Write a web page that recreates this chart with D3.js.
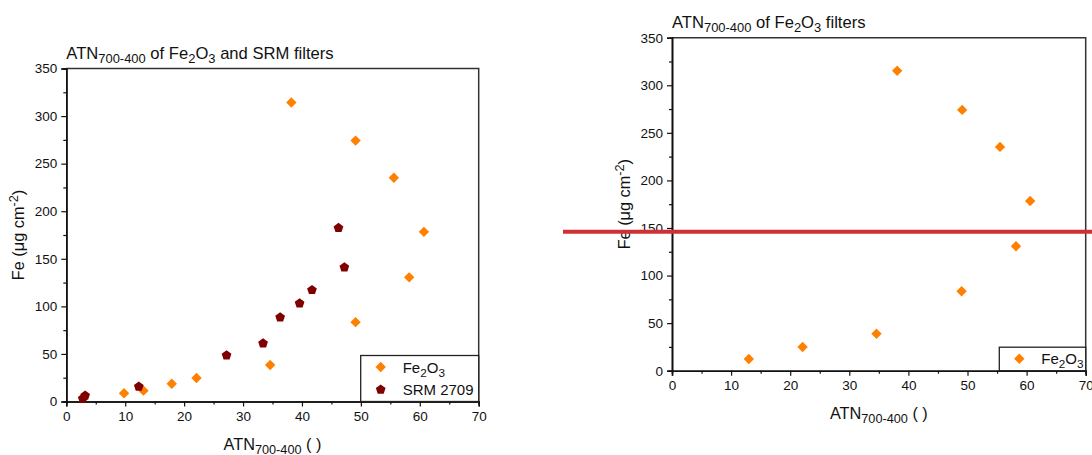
<!DOCTYPE html>
<html>
<head>
<meta charset="utf-8">
<script src="https://cdn.jsdelivr.net/npm/d3@7"></script>
<style>
  body { margin: 0; background: #fff; }
  svg { display: block; font-family: "Liberation Sans", Arial, sans-serif; }
</style>
</head>
<body>
<svg id="chart" width="1092" height="455"></svg>
<script>
// left panel: Fe2O3 and SRM filters
const fe2o3Atn = [9.8, 13.1, 17.9, 22.1, 34.6, 38.2, 49.1, 55.6, 60.7, 58.2, 49.1];
const fe2o3Fe = [8.6, 11.4, 18.7, 24.7, 38.4, 314.2, 274.2, 235.1, 178.3, 130.5, 83.4];
const srmAtn = [2.8, 3.2, 12.3, 27.2, 33.4, 36.3, 39.6, 41.7, 46.2, 47.2];
const srmFe = [3.0, 6.1, 15.6, 48.6, 61.2, 88.5, 103.2, 117.2, 182.4, 141.1];

// right panel: Fe2O3 filters only
const filtAtn = [13.0, 22.1, 34.6, 38.1, 49.1, 55.5, 60.6, 58.2, 49.0];
const filtFe = [12.3, 24.9, 38.9, 315.3, 274.1, 235.2, 178.4, 130.8, 83.5];

const xTicks = [0, 10, 20, 30, 40, 50, 60, 70];
const yTicks = [0, 50, 100, 150, 200, 250, 300, 350];
const markLevel = 146; // red marker line on the right panel

const ORANGE = "#ff8000";
const MAROON = "#800000";

const svg = d3.select("#chart");

const diamond = d3.symbol().type(d3.symbolSquare).size(54);
const pentagon = {
  draw(ctx, size) {
    const r = Math.sqrt(size / 2.378);
    for (let i = 0; i < 5; i++) {
      const a = -Math.PI / 2 + i * 2 * Math.PI / 5;
      const px = r * Math.cos(a), py = r * Math.sin(a);
      if (i === 0) ctx.moveTo(px, py); else ctx.lineTo(px, py);
    }
    ctx.closePath();
  }
};
const penta = d3.symbol().type(pentagon).size(62);

function subText(sel, parts) {
  // parts: [text, "sub"|"sup"|null]
  parts.forEach(([t, kind]) => {
    const ts = sel.append("tspan").text(t);
    if (kind === "sub") ts.attr("font-size", "0.78em").attr("dy", 4);
    if (kind === "sup") ts.attr("font-size", "0.78em").attr("dy", -6);
    if (kind === "back-sub") ts.attr("dy", -4);
    if (kind === "back-sup") ts.attr("dy", 6);
  });
}

function drawPanel(o) {
  const x = d3.scaleLinear().domain([0, 70]).range([o.left, o.right]);
  const y = d3.scaleLinear().domain([0, 350]).range([o.bottom, o.top]);
  const g = svg.append("g");

  // frame: top and right
  g.append("path")
    .attr("d", `M${o.left},${o.top}H${o.right}V${o.bottom}`)
    .attr("fill", "none").attr("stroke", "#333").attr("stroke-width", 1.5);

  const xAxis = d3.axisBottom(x).tickValues(xTicks).tickSize(5).tickPadding(5).tickFormat(d3.format("d"));
  const yAxis = d3.axisLeft(y).tickValues(yTicks).tickSize(5).tickPadding(4).tickFormat(d3.format("d"));
  const xMinor = d3.axisBottom(x).tickValues(xTicks.slice(1).map(v => v - 5)).tickSize(3).tickFormat("");
  const yMinor = d3.axisLeft(y).tickValues(yTicks.slice(1).map(v => v - 25)).tickSize(3).tickFormat("");

  [[xAxis, "x"], [xMinor, "x"], [yAxis, "y"], [yMinor, "y"]].forEach(([ax, k]) => {
    const a = g.append("g")
      .attr("transform", k === "x" ? `translate(0,${o.bottom})` : `translate(${o.left},0)`)
      .call(ax);
    a.select(".domain").attr("stroke", "#111").attr("stroke-width", 1.6);
    a.selectAll(".tick line").attr("stroke", "#111").attr("stroke-width", 1.2);
    a.selectAll(".tick text").attr("font-size", 13.5).attr("fill", "#111")
      .attr("font-family", "Liberation Sans, Arial, sans-serif");
  });

  // title
  const title = g.append("text").attr("x", o.left).attr("y", o.top - 10)
    .attr("font-size", 16.6).attr("fill", "#111");
  subText(title, o.title);

  // axis labels
  const xl = g.append("text").attr("x", (o.left + o.right) / 2).attr("y", o.bottom + 48)
    .attr("text-anchor", "middle").attr("font-size", 16.3).attr("fill", "#111");
  subText(xl, [["ATN", null], ["700-400", "sub"], [" ( )", "back-sub"]]);

  const yl = g.append("text")
    .attr("transform", `translate(${o.left - 42},${(o.top + o.bottom) / 2}) rotate(-90)`)
    .attr("text-anchor", "middle").attr("font-size", 16.3).attr("fill", "#111");
  subText(yl, [["Fe (\u03bcg cm", null], ["-2", "sup"], [")", "back-sup"]]);

  // points
  o.series.forEach(s => {
    g.append("g").selectAll("path")
      .data(s.xs.map((v, i) => [v, s.ys[i]]))
      .join("path")
      .attr("d", s.sym === "penta" ? penta : diamond)
      .attr("transform", d => `translate(${x(d[0])},${y(d[1])})` + (s.sym === "penta" ? "" : " rotate(45)"))
      .attr("fill", s.color);
  });

  // legend in the bottom-right corner
  const lh = 22.5, lw = o.legendW;
  const lg = g.append("g");
  const ltop = o.bottom - lh * o.series.length - 1;
  lg.append("rect")
    .attr("x", o.right - lw).attr("y", ltop)
    .attr("width", lw).attr("height", o.bottom - ltop)
    .attr("fill", "#fff").attr("stroke", "#222").attr("stroke-width", 1.3);
  o.series.forEach((s, i) => {
    const cy = ltop + 11.5 + i * lh;
    lg.append("path")
      .attr("d", s.sym === "penta" ? penta : diamond)
      .attr("transform", `translate(${o.right - lw + 20},${cy})` + (s.sym === "penta" ? "" : " rotate(45)"))
      .attr("fill", s.color);
    const t = lg.append("text").attr("x", o.right - lw + 42).attr("y", cy + 5.5)
      .attr("font-size", 15).attr("fill", "#111");
    subText(t, s.label);
  });

  return { x, y };
}

drawPanel({
  left: 66.3, right: 478.7, top: 68.5, bottom: 401.5, legendW: 118,
  title: [["ATN", null], ["700-400", "sub"], [" of Fe", "back-sub"], ["2", "sub"], ["O", "back-sub"], ["3", "sub"], [" and SRM filters", "back-sub"]],
  series: [
    { xs: fe2o3Atn, ys: fe2o3Fe, color: ORANGE, sym: "diamond", label: [["Fe", null], ["2", "sub"], ["O", "back-sub"], ["3", "sub"]] },
    { xs: srmAtn, ys: srmFe, color: MAROON, sym: "penta", label: [["SRM 2709", null]] }
  ]
});

const right = drawPanel({
  left: 672, right: 1085.7, top: 37.7, bottom: 370.7, legendW: 86.4,
  title: [["ATN", null], ["700-400", "sub"], [" of Fe", "back-sub"], ["2", "sub"], ["O", "back-sub"], ["3", "sub"], [" filters", "back-sub"]],
  series: [
    { xs: filtAtn, ys: filtFe, color: ORANGE, sym: "diamond", label: [["Fe", null], ["2", "sub"], ["O", "back-sub"], ["3", "sub"]] }
  ]
});

// red horizontal marker over the right panel
svg.append("line")
  .attr("x1", 563).attr("x2", 1092)
  .attr("y1", right.y(markLevel)).attr("y2", right.y(markLevel))
  .attr("stroke", "#cf3035").attr("stroke-width", 4);
</script>
</body>
</html>
